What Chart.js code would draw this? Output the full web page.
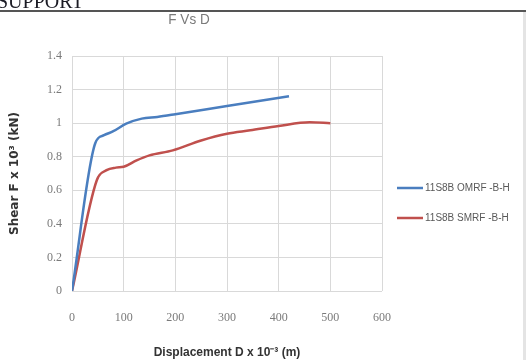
<!DOCTYPE html>
<html>
<head>
<meta charset="utf-8">
<script src="https://cdn.jsdelivr.net/npm/chart.js@4/dist/chart.umd.min.js"></script>
<style>
  html, body { margin: 0; padding: 0; background: #ffffff; }
  #wrap { position: relative; width: 526px; height: 360px; overflow: hidden; }
  canvas { position: absolute; left: 0; top: 0; }
</style>
</head>
<body>
<div id="wrap"><canvas id="c" width="526" height="360"></canvas></div>
<script>
// ---- data ----
const chartTitle = "F Vs D";
const xTitle = "Displacement D x 10\u207B\u00B3 (m)";
const yTitle = "Shear F x 10\u00B3 (kN)";
const seriesNames = ["11S8B OMRF -B-H", "11S8B SMRF -B-H"];
const omrfD = [0, 45, 62, 80, 105, 135, 165, 200, 300, 420];
const omrfF = [0, 0.88, 0.928, 0.952, 0.997, 1.027, 1.037, 1.053, 1.102, 1.16];
const smrfD = [0, 48, 67, 85, 100, 125, 150, 195, 250, 300, 345, 400, 460, 500];
const smrfF = [0, 0.66, 0.72, 0.735, 0.74, 0.778, 0.808, 0.838, 0.897, 0.937, 0.957, 0.983, 1.005, 1.0];
const xTicks = [0, 100, 200, 300, 400, 500, 600];
const yTicks = [0, 0.2, 0.4, 0.6, 0.8, 1, 1.2, 1.4];
const colors = ["#4a7ebf", "#c0504d"];

function pts(xs, ys) { return xs.map((x, i) => ({ x: x, y: ys[i] })); }

const extras = {
  id: 'extras',
  afterDraw(chart) {
    const ctx = chart.ctx;
    ctx.save();
    // page fragment above the chart
    ctx.fillStyle = '#1b1b24';
    ctx.font = '20px "Liberation Serif"';
    ctx.textBaseline = 'alphabetic';
    ctx.textAlign = 'left';
    ctx.fillText('SUPPORT', -3, 8);
    ctx.fillStyle = '#555555';
    ctx.fillRect(0, 10, 526, 2);
    ctx.fillStyle = '#e4e4e4';
    ctx.fillRect(523, 12, 3, 348);
    // title
    ctx.fillStyle = '#7a7a7a';
    ctx.font = '15px "Liberation Sans"';
    ctx.textAlign = 'center';
    ctx.textBaseline = 'middle';
    ctx.save();
    ctx.translate(189, 20);
    ctx.scale(0.9, 1);
    ctx.fillText(chartTitle, 0, 0);
    ctx.restore();
    // legend
    const ly = [188, 218];
    ctx.font = '10px "Liberation Sans"';
    ctx.textAlign = 'left';
    for (let i = 0; i < 2; i++) {
      ctx.strokeStyle = colors[i];
      ctx.lineWidth = 2.5;
      ctx.beginPath();
      ctx.moveTo(397, ly[i]);
      ctx.lineTo(423, ly[i]);
      ctx.stroke();
      ctx.fillStyle = '#595959';
      ctx.fillText(seriesNames[i], 425, ly[i]);
    }
    ctx.restore();
  }
};

new Chart(document.getElementById('c'), {
  type: 'line',
  data: {
    datasets: [
      { label: seriesNames[0], data: pts(omrfD, omrfF), borderColor: colors[0], backgroundColor: colors[0],
        borderWidth: 2.5, pointRadius: 0, cubicInterpolationMode: 'monotone', fill: false },
      { label: seriesNames[1], data: pts(smrfD, smrfF), borderColor: colors[1], backgroundColor: colors[1],
        borderWidth: 2.5, pointRadius: 0, cubicInterpolationMode: 'monotone', fill: false }
    ]
  },
  options: {
    responsive: false,
    animation: false,
    layout: { padding: { top: 56, right: 144, bottom: 0, left: 0 } },
    plugins: { legend: { display: false }, title: { display: false }, tooltip: { enabled: false } },
    scales: {
      x: {
        type: 'linear', min: 0, max: 600,
        afterFit(s) { s.height = 69; },
        afterBuildTicks(s) { s.ticks = xTicks.map(v => ({ value: v })); },
        grid: { color: '#d9d9d9', lineWidth: 1, drawTicks: false },
        border: { display: false },
        ticks: { padding: 20, color: '#7a7a7a', font: { family: '"Liberation Serif"', size: 12 }, maxRotation: 0 },
        title: { display: true, text: xTitle, color: '#333333', padding: { top: 2, bottom: 0 },
                 font: { family: '"Liberation Sans"', size: 12, weight: 'bold' } }
      },
      y: {
        type: 'linear', min: 0, max: 1.4,
        afterFit(s) { s.width = 72; },
        afterBuildTicks(s) { s.ticks = yTicks.map(v => ({ value: v })); },
        grid: { color: '#d9d9d9', lineWidth: 1, drawTicks: false },
        border: { display: false },
        ticks: { padding: 10, color: '#7a7a7a', font: { family: '"Liberation Serif"', size: 12 },
                 callback: v => String(Math.round(v * 10) / 10) },
        title: { display: true, text: yTitle, color: '#333333', padding: { top: 8, bottom: 0 },
                 font: { family: '"DejaVu Sans"', size: 12, weight: 'bold' } }
      }
    }
  },
  plugins: [extras]
});
</script>
</body>
</html>
